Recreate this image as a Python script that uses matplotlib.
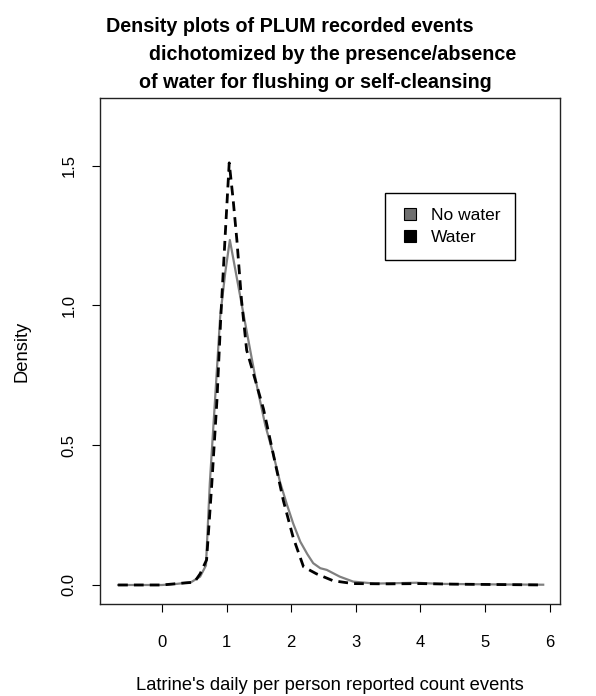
import numpy as np
import matplotlib
matplotlib.use("Agg")
import matplotlib.pyplot as plt
from matplotlib.lines import Line2D

plt.rcParams['font.family'] = ['Liberation Sans', 'DejaVu Sans']

# density curves
no_water_x = [-0.68, 0.0, 0.23, 0.45, 0.59, 0.68, 0.74, 0.82, 0.90, 0.98, 1.05,
              1.26, 1.47, 1.60, 1.72, 1.83, 1.93, 2.03, 2.14, 2.25, 2.34, 2.45,
              2.55, 2.75, 2.96, 3.30, 3.94, 4.30, 4.72, 5.20, 5.90]
no_water_y = [0.0, 0.0, 0.004, 0.01, 0.03, 0.07, 0.365, 0.66, 0.96, 1.12, 1.234,
              0.97, 0.71, 0.57, 0.47, 0.365, 0.29, 0.22, 0.155, 0.11, 0.078, 0.06,
              0.054, 0.03, 0.012, 0.005, 0.008, 0.004, 0.003, 0.002, 0.001]

water_x = [-0.68, 0.0, 0.28, 0.50, 0.59, 0.69, 0.77, 0.85, 0.91, 0.98, 1.04,
           1.10, 1.16, 1.23, 1.31, 1.41, 1.57, 1.72, 1.88, 2.03, 2.19, 2.39,
           2.65, 2.96, 3.50, 4.00, 4.50, 5.00, 5.50, 5.90]
water_y = [0.0, 0.0, 0.006, 0.01, 0.04, 0.09, 0.36, 0.66, 0.96, 1.26, 1.51,
           1.38, 1.23, 1.02, 0.84, 0.76, 0.63, 0.47, 0.30, 0.17, 0.065, 0.04,
           0.015, 0.005, 0.004, 0.005, 0.003, 0.002, 0.001, 0.0]

labels = ["No water", "Water"]
x_ticks = [0, 1, 2, 3, 4, 5, 6]
y_ticks = [0.0, 0.5, 1.0, 1.5]

fig = plt.figure(figsize=(5.96, 6.96), dpi=100)
ax = fig.add_axes([100/596, 1 - 604/696, 460/596, 506/696])

ax.plot(no_water_x, no_water_y, color='#808080', lw=1.6)
ax.plot(water_x, water_y, color='black', lw=2.0, dashes=(3.5, 2.2))

ax.set_xlim(-0.96, 6.16)
ax.set_ylim(-0.068, 1.742)
ax.set_xticks(x_ticks)
ax.set_xticklabels([str(t) for t in x_ticks])
ax.set_yticks(y_ticks)
ax.set_yticklabels(["%.1f" % t for t in y_ticks], rotation=90, va='center')
ax.tick_params(direction='out', length=6, width=0.8, labelsize=12,
               colors='black')
ax.tick_params(axis='x', pad=16)
ax.tick_params(axis='y', pad=11)
for s in ax.spines.values():
    s.set_linewidth(1.0)
    s.set_color('#222222')

ax.set_ylabel("Density", fontsize=13.2)
ax.yaxis.set_label_coords(-69/460, 0.5)
ax.set_xlabel("Latrine's daily per person reported count events", fontsize=13.2)
ax.xaxis.set_label_coords(0.5, -73/506)

# three title lines, R-style with uneven indentation
fig.text(290/596, 1 - 27/696, "Density plots of PLUM recorded events",
         ha='center', va='center', fontsize=14.2, fontweight='bold')
fig.text(333/596, 1 - 55/696, "dichotomized by the presence/absence",
         ha='center', va='center', fontsize=14.2, fontweight='bold')
fig.text(315/596, 1 - 83/696, "of water for flushing or self-cleansing",
         ha='center', va='center', fontsize=14.2, fontweight='bold')

handles = [Line2D([], [], ls='none', marker='s', ms=9, mfc='#707070', mec='black', mew=0.8),
           Line2D([], [], ls='none', marker='s', ms=9, mfc='black', mec='black', mew=0.8)]
leg = ax.legend(handles, labels, loc='upper left',
                bbox_to_anchor=(385/596, 1 - 193/696), bbox_transform=fig.transFigure,
                fancybox=False, framealpha=1, edgecolor='black', fontsize=12.5,
                handletextpad=0.6, borderpad=0.85, labelspacing=0.4,
                borderaxespad=0, handlelength=1.2)
leg.get_frame().set_linewidth(1.0)

fig.savefig("out.png", dpi=100)
